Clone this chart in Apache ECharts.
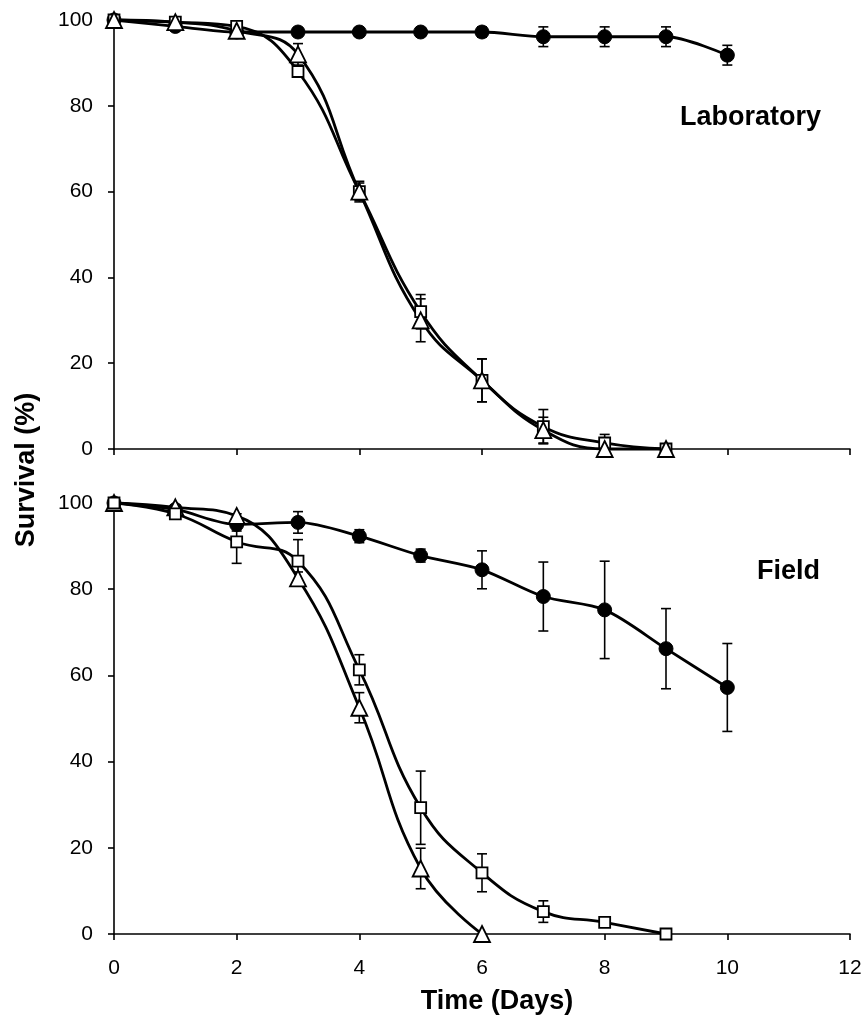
<!DOCTYPE html>
<html>
<head>
<meta charset="utf-8">
<script src="https://cdn.jsdelivr.net/npm/echarts@6/dist/echarts.min.js"></script>
<style>html,body{margin:0;padding:0;background:#fff;}#c{width:868px;height:1017px;}</style>
</head>
<body>
<div id="c"></div>
<script>
const xTicks = [0, 2, 4, 6, 8, 10, 12];
const yTicks = [0, 20, 40, 60, 80, 100];

const labDays10 = [0, 1, 2, 3, 4, 5, 6, 7, 8, 9, 10];
const labCircle = [100, 98.5, 97.2, 97.2, 97.2, 97.2, 97.2, 96.1, 96.1, 96.1, 91.8];
const labCircleErr = [0, 1, 1, 1, 1, 1, 1.2, 2.3, 2.3, 2.3, 2.3];
const labDays9 = [0, 1, 2, 3, 4, 5, 6, 7, 8, 9];
const labSquare = [100, 99.5, 98.5, 88, 60, 32, 16, 5.2, 1.4, 0];
const labSquareErr = [0, 0.5, 1, 1, 2.4, 4, 5, 4, 2, 0];
const labTriangle = [100, 99.5, 97.5, 92, 60, 30, 16, 4.4, 0, 0];
const labTriangleErr = [0, 0.5, 1, 2.5, 2, 5, 5, 3, 1, 0];

const fieldDays10 = [0, 1, 2, 3, 4, 5, 6, 7, 8, 9, 10];
const fieldCircle = [100, 98.5, 95, 95.5, 92.3, 87.8, 84.5, 78.3, 75.2, 66.2, 57.2];
const fieldCircleErr = [0, 1, 1.5, 2.5, 1.5, 1.5, 4.4, 8, 11.3, 9.3, 10.2];
const fieldDays9 = [0, 1, 2, 3, 4, 5, 6, 7, 8, 9];
const fieldSquare = [100, 97.5, 91, 86.5, 61.3, 29.3, 14.2, 5.2, 2.7, 0];
const fieldSquareErr = [0, 1, 5, 5, 3.5, 8.5, 4.4, 2.5, 0.5, 0];
const fieldDays6 = [0, 1, 2, 3, 4, 5, 6];
const fieldTriangle = [100, 99, 97, 82.5, 52.5, 15.2, 0];
const fieldTriangleErr = [0, 0.5, 0.5, 1.5, 3.5, 4.7, 0];

const FONT = 'Liberation Sans, Arial, sans-serif';

function pts(xs, ys) { return xs.map((x, i) => [x, ys[i]]); }
function errPts(xs, ys, es) { return xs.map((x, i) => [x, ys[i], es[i]]); }

function renderErr(params, api) {
  const x = api.value(0), y = api.value(1), e = api.value(2);
  if (!e) return null;
  const hi = api.coord([x, y + e]);
  const lo = api.coord([x, y - Math.min(e, y)]);
  const w = 5;
  const st = { stroke: '#000', lineWidth: 1.6 };
  const children = [
    { type: 'line', shape: { x1: hi[0], y1: hi[1], x2: lo[0], y2: lo[1] }, style: st },
    { type: 'line', shape: { x1: hi[0] - w, y1: hi[1], x2: hi[0] + w, y2: hi[1] }, style: st }
  ];
  if (e <= y) children.push({ type: 'line', shape: { x1: lo[0] - w, y1: lo[1], x2: lo[0] + w, y2: lo[1] }, style: st });
  return { type: 'group', children };
}

function errSeries(idx, data) {
  return {
    type: 'custom', xAxisIndex: idx, yAxisIndex: idx, renderItem: renderErr,
    data: data, encode: { x: 0, y: 1 }, z: 1, clip: false, silent: true
  };
}

function lineSeries(idx, data, kind, smooth) {
  const s = {
    type: 'line', xAxisIndex: idx, yAxisIndex: idx, data: data, smooth: smooth,
    lineStyle: { color: '#000', width: 2.8 }, z: 2, clip: false, silent: true,
    showAllSymbol: true
  };
  if (kind === 'circle') {
    s.symbol = 'circle'; s.symbolSize = 14;
    s.itemStyle = { color: '#000', borderColor: '#000', borderWidth: 1 };
  } else if (kind === 'square') {
    s.symbol = 'rect'; s.symbolSize = 11;
    s.itemStyle = { color: '#fff', borderColor: '#000', borderWidth: 1.8 };
  } else {
    s.symbol = 'triangle'; s.symbolSize = 16;
    s.itemStyle = { color: '#fff', borderColor: '#000', borderWidth: 1.8 };
  }
  return s;
}

function xAxisDef(idx, showLabels) {
  return {
    type: 'value', gridIndex: idx, min: xTicks[0], max: xTicks[xTicks.length - 1], interval: xTicks[1] - xTicks[0],
    axisLine: { show: true, onZero: false, lineStyle: { color: '#000', width: 1.6 } },
    axisTick: { show: true, length: 6, lineStyle: { color: '#000', width: 1.6 } },
    axisLabel: { show: showLabels, color: '#000', fontSize: 21, fontFamily: FONT, margin: 24 },
    splitLine: { show: false }
  };
}
function yAxisDef(idx) {
  return {
    type: 'value', gridIndex: idx, min: yTicks[0], max: yTicks[yTicks.length - 1], interval: yTicks[1] - yTicks[0],
    axisLine: { show: true, onZero: false, lineStyle: { color: '#000', width: 1.6 } },
    axisTick: { show: true, length: 6, lineStyle: { color: '#000', width: 1.6 } },
    axisLabel: { show: true, color: '#000', fontSize: 21, fontFamily: FONT, margin: 21 },
    splitLine: { show: false }
  };
}

const chart = echarts.init(document.getElementById('c'), null, { renderer: 'canvas' });
chart.setOption({
  backgroundColor: '#fff',
  animation: false,
  grid: [
    { left: 114, right: 18, top: 20, height: 429 },
    { left: 114, right: 18, top: 503, height: 431 }
  ],
  xAxis: [xAxisDef(0, false), xAxisDef(1, true)],
  yAxis: [yAxisDef(0), yAxisDef(1)],
  graphic: [
    { type: 'text', left: 680, top: 104, style: { text: 'Laboratory', font: 'bold 27px ' + FONT, fill: '#000' } },
    { type: 'text', left: 757, top: 558, style: { text: 'Field', font: 'bold 27px ' + FONT, fill: '#000' } },
    { type: 'text', x: 27, y: 470, rotation: Math.PI / 2, style: { text: 'Survival (%)', font: 'bold 27px ' + FONT, fill: '#000', textAlign: 'center', textVerticalAlign: 'middle' } },
    { type: 'text', x: 497, y: 1002, style: { text: 'Time (Days)', font: 'bold 27px ' + FONT, fill: '#000', textAlign: 'center', textVerticalAlign: 'middle' } }
  ],
  series: [
    errSeries(0, errPts(labDays10, labCircle, labCircleErr)),
    errSeries(0, errPts(labDays9, labSquare, labSquareErr)),
    errSeries(0, errPts(labDays9, labTriangle, labTriangleErr)),
    lineSeries(0, pts(labDays10, labCircle), 'circle', 0.3),
    lineSeries(0, pts(labDays9, labSquare), 'square', 0.45),
    lineSeries(0, pts(labDays9, labTriangle), 'triangle', 0.45),
    errSeries(1, errPts(fieldDays10, fieldCircle, fieldCircleErr)),
    errSeries(1, errPts(fieldDays9, fieldSquare, fieldSquareErr)),
    errSeries(1, errPts(fieldDays6, fieldTriangle, fieldTriangleErr)),
    lineSeries(1, pts(fieldDays10, fieldCircle), 'circle', 0.3),
    lineSeries(1, pts(fieldDays6, fieldTriangle), 'triangle', 0.45),
    lineSeries(1, pts(fieldDays9, fieldSquare), 'square', 0.45)
  ]
});
</script>
</body>
</html>
